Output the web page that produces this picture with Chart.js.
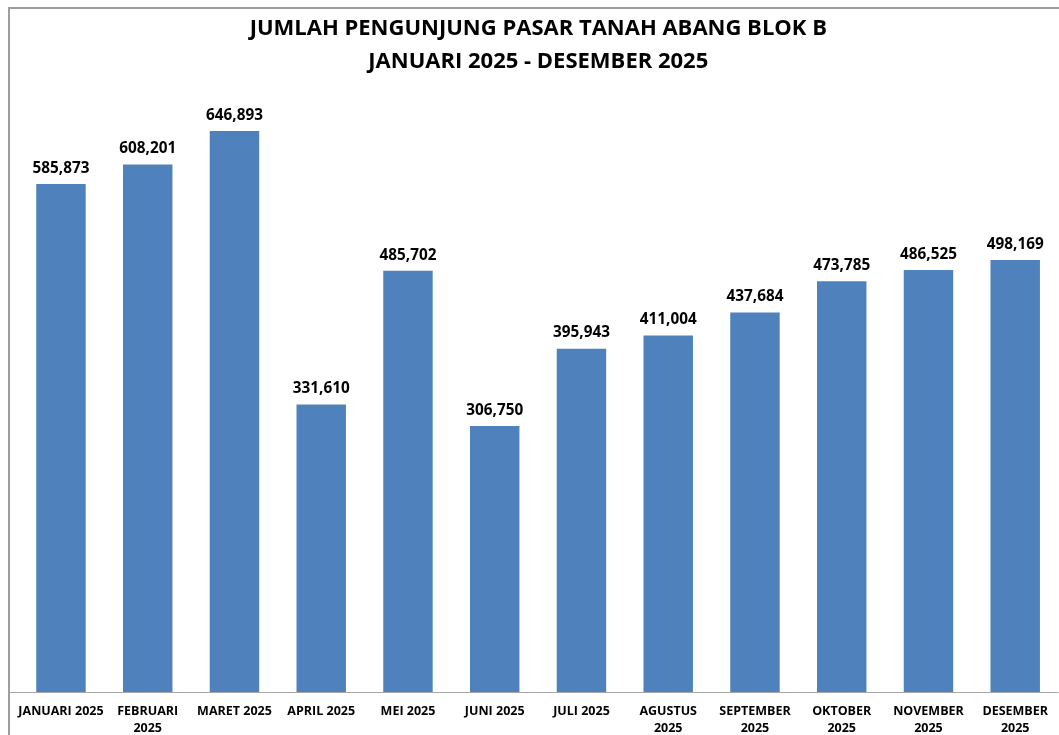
<!DOCTYPE html>
<html>
<head>
<meta charset="utf-8">
<script src="https://cdn.jsdelivr.net/npm/chart.js@4.4.1/dist/chart.umd.min.js"></script>
<style>
    html, body { margin: 0; padding: 0; background: #fff; }
    #wrap { position: relative; width: 1059px; height: 735px; }
</style>
</head>
<body>
<div id="wrap"><canvas id="myChart"></canvas></div>
<script>
const MONTHS = [
    "JANUARI 2025",
    ["FEBRUARI", "2025"],
    "MARET 2025",
    "APRIL 2025",
    "MEI 2025",
    "JUNI 2025",
    "JULI 2025",
    ["AGUSTUS", "2025"],
    ["SEPTEMBER", "2025"],
    ["OKTOBER", "2025"],
    ["NOVEMBER", "2025"],
    ["DESEMBER", "2025"],
];

const VISITORS = [585873, 608201, 646893, 331610, 485702, 306750, 395943, 411004, 437684, 473785, 486525, 498169];

const TITLE = ["JUMLAH PENGUNJUNG PASAR TANAH ABANG BLOK B", "JANUARI 2025 - DESEMBER 2025"];

const FONT = "'Open Sans', 'DejaVu Sans', sans-serif";

// frame lines, baseline and value labels above bars
const decorPlugin = {
    id: "decor",
    beforeDraw(chart) {
        const ctx = chart.ctx;
        ctx.save();
        ctx.strokeStyle = "#9e9e9e";
        ctx.lineWidth = 2;
        ctx.beginPath();
        ctx.moveTo(9, 735);
        ctx.lineTo(9, 8);
        ctx.lineTo(1059, 8);
        ctx.stroke();
        ctx.restore();
    },
    afterDatasetsDraw(chart) {
        const ctx = chart.ctx;
        const y0 = chart.scales.y.getPixelForValue(0);
        ctx.save();
        ctx.strokeStyle = "#a6a6a6";
        ctx.lineWidth = 1;
        ctx.beginPath();
        ctx.moveTo(9, Math.round(y0) + 0.5);
        ctx.lineTo(chart.chartArea.right, Math.round(y0) + 0.5);
        ctx.stroke();

        ctx.fillStyle = "#000";
        ctx.font = "bold 15.3px " + FONT;
        ctx.textAlign = "center";
        ctx.textBaseline = "bottom";
        const meta = chart.getDatasetMeta(0);
        meta.data.forEach(function (bar, i) {
            const v = chart.data.datasets[0].data[i];
            ctx.fillText(v.toLocaleString("en-US"), bar.x, bar.y - 8);
        });
        ctx.restore();
    },
};

const data1 = {
    labels: MONTHS,
    datasets: [
        {
            label: "Pengunjung",
            data: VISITORS,
            backgroundColor: "#4f81bd",
            borderWidth: 0,
            categoryPercentage: 1,
            barPercentage: 0.57,
        },
    ],
};

const config1 = {
    type: "bar",
    data: data1,
    plugins: [decorPlugin],
    options: {
        responsive: true,
        maintainAspectRatio: false,
        animation: false,
        layout: {
            padding: { left: 17.6, right: 0, top: 0, bottom: 0 },
        },
        plugins: {
            legend: { display: false },
            tooltip: { enabled: false },
            title: {
                display: true,
                text: TITLE,
                color: "#000",
                font: { family: FONT, size: 22, weight: "bold", lineHeight: 1.5 },
                padding: { top: 12, bottom: 7 },
            },
        },
        scales: {
            x: {
                grid: { display: false, drawTicks: false },
                border: { display: false },
                afterFit(scale) {
                    scale.height = 43;
                },
                ticks: {
                    color: "#000",
                    font: { family: FONT, size: 12.5, weight: "bold", lineHeight: 1.36 },
                    padding: 11,
                    maxRotation: 0,
                    autoSkip: false,
                },
            },
            y: {
                display: false,
                beginAtZero: true,
                min: 0,
                max: 700000,
            },
        },
    },
};

var ctx = document.getElementById("myChart").getContext("2d");
var myChart = new Chart(ctx, config1);
</script>
</body>
</html>
